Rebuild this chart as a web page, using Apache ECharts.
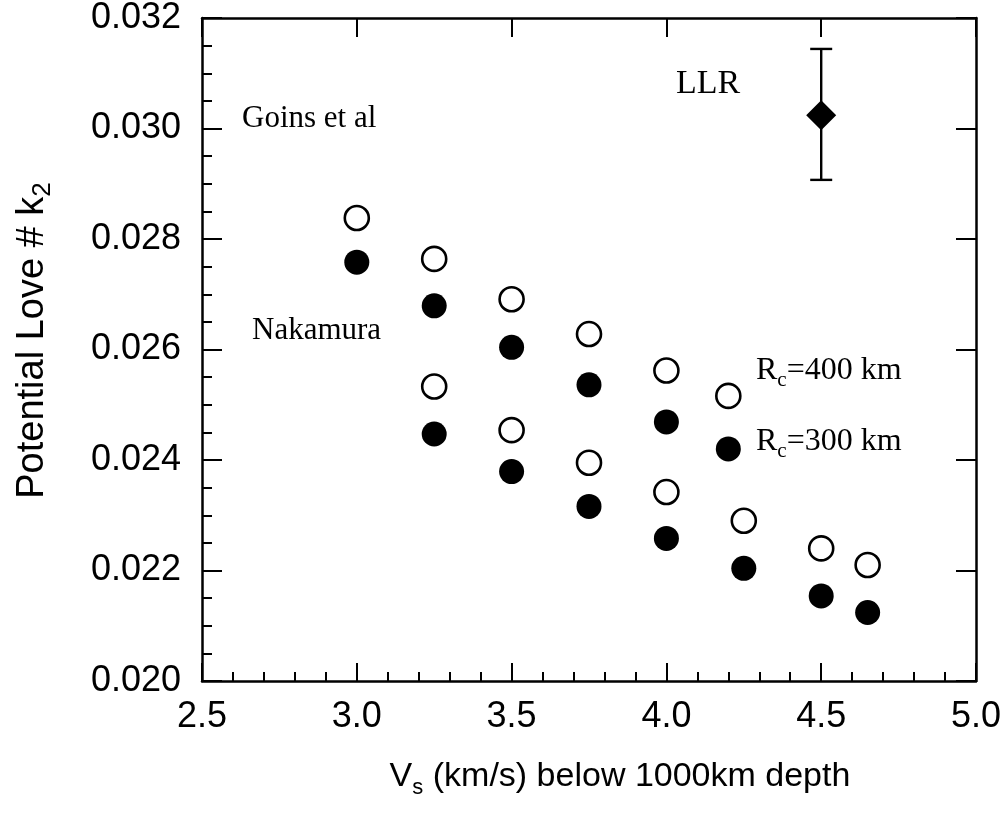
<!DOCTYPE html>
<html>
<head>
<meta charset="utf-8">
<title>Potential Love number k2 vs Vs</title>
<script src="https://cdn.jsdelivr.net/npm/echarts@6/dist/echarts.min.js"></script>
<style>
  html, body { margin: 0; padding: 0; background: #fff; }
  #container { width: 1006px; height: 813px; }
</style>
</head>
<body>
<div id="container"></div>
<script>
// Goins et al models (upper group)
var vsGoins = [3.0, 3.25, 3.5, 3.75, 4.0, 4.2];
var k2GoinsRc400 = [0.02838, 0.02764, 0.02691, 0.02628, 0.02562, 0.02516];
var k2GoinsRc300 = [0.02758, 0.02679, 0.02604, 0.02536, 0.02469, 0.02420];
// Nakamura models (lower group)
var vsNaka = [3.25, 3.5, 3.75, 4.0, 4.25, 4.5, 4.65];
var k2NakaRc400 = [0.02533, 0.02454, 0.02395, 0.02342, 0.02290, 0.02240, 0.02210];
var k2NakaRc300 = [0.02447, 0.02379, 0.02316, 0.02258, 0.02204, 0.02154, 0.02124];
// LLR measurement with error bar
var vsLLR = [4.5];
var k2LLR = [0.03024];
var k2LLRLow = [0.02907];
var k2LLRHigh = [0.03144];

var xTicks = [2.5, 3.0, 3.5, 4.0, 4.5, 5.0];
var yTicks = [0.020, 0.022, 0.024, 0.026, 0.028, 0.030, 0.032];

function pairs(xs, ys) {
  return xs.map(function (x, i) { return [x, ys[i]]; });
}

var sansFont = '"Liberation Sans", Arial, Helvetica, sans-serif';
var serifFont = '"Liberation Serif", "Times New Roman", serif';

var openCircle = {
  color: '#fff',
  borderColor: '#000',
  borderWidth: 2.6,
  opacity: 1
};
var filledCircle = {
  color: '#000',
  opacity: 1
};

// rich styles for the R_c labels
var rcRich = {
  a: { fontSize: 32, fontFamily: serifFont, color: '#000', lineHeight: 40, verticalAlign: 'middle' },
  s: { fontSize: 21, fontFamily: serifFont, color: '#000', lineHeight: 24, verticalAlign: 'bottom' }
};

var chart = echarts.init(document.getElementById('container'));

var option = {
  backgroundColor: '#fff',
  animation: false,
  grid: {
    left: 202,
    top: 18,
    right: 30,
    bottom: 132,
    containLabel: false
  },
  xAxis: [{
    type: 'value',
    position: 'bottom',
    min: xTicks[0],
    max: xTicks[xTicks.length - 1],
    interval: 0.5,
    splitLine: { show: false },
    axisLine: { onZero: false, lineStyle: { color: '#000', width: 2.5 } },
    axisTick: { inside: true, length: 18, lineStyle: { color: '#000', width: 2 } },
    minorTick: { show: true, splitNumber: 5, length: 9, lineStyle: { color: '#000', width: 2 } },
    axisLabel: {
      margin: 18,
      color: '#000',
      fontSize: 36,
      fontFamily: sansFont,
      formatter: function (v) { return v.toFixed(1); }
    },
    name: '{a|V}{s|s}{a| (km/s) below 1000km depth}',
    nameLocation: 'middle',
    nameGap: 74,
    nameTextStyle: {
      color: '#000',
      fontFamily: sansFont,
      padding: [0, 0, 0, 62],
      rich: {
        a: { fontSize: 34, fontFamily: sansFont, color: '#000', lineHeight: 44, verticalAlign: 'middle' },
        s: { fontSize: 22, fontFamily: sansFont, color: '#000', lineHeight: 24, verticalAlign: 'bottom' }
      }
    }
  }, {
    type: 'value',
    position: 'top',
    min: xTicks[0],
    max: xTicks[xTicks.length - 1],
    interval: 0.5,
    splitLine: { show: false },
    axisLine: { onZero: false, lineStyle: { color: '#000', width: 2.5 } },
    axisTick: { inside: true, length: 19, lineStyle: { color: '#000', width: 2 } },
    axisLabel: { show: false }
  }],
  yAxis: [{
    type: 'value',
    position: 'left',
    min: yTicks[0],
    max: yTicks[yTicks.length - 1],
    interval: 0.002,
    splitLine: { show: false },
    axisLine: { onZero: false, lineStyle: { color: '#000', width: 2.5 } },
    axisTick: { inside: true, length: 20, lineStyle: { color: '#000', width: 2 } },
    minorTick: { show: true, splitNumber: 4, length: 10, lineStyle: { color: '#000', width: 2 } },
    axisLabel: {
      margin: 21,
      color: '#000',
      fontSize: 36,
      fontFamily: sansFont,
      formatter: function (v) { return v.toFixed(3); }
    },
    name: '{a|Potential Love # k}{s|2}',
    nameLocation: 'middle',
    nameGap: 146,
    nameTextStyle: {
      color: '#000',
      fontFamily: sansFont,
      padding: [0, 0, 0, 18],
      rich: {
        a: { fontSize: 38, fontFamily: sansFont, color: '#000', lineHeight: 46, verticalAlign: 'middle' },
        s: { fontSize: 26, fontFamily: sansFont, color: '#000', lineHeight: 28, verticalAlign: 'bottom' }
      }
    }
  }, {
    type: 'value',
    position: 'right',
    min: yTicks[0],
    max: yTicks[yTicks.length - 1],
    interval: 0.002,
    splitLine: { show: false },
    axisLine: { onZero: false, lineStyle: { color: '#000', width: 2.5 } },
    axisTick: { inside: true, length: 20, lineStyle: { color: '#000', width: 2 } },
    axisLabel: { show: false }
  }],
  series: [{
    name: 'Goins Rc=400',
    type: 'scatter',
    symbol: 'circle',
    symbolSize: 24,
    itemStyle: openCircle,
    data: pairs(vsGoins, k2GoinsRc400)
  }, {
    name: 'Goins Rc=300',
    type: 'scatter',
    symbol: 'circle',
    symbolSize: 25,
    itemStyle: filledCircle,
    data: pairs(vsGoins, k2GoinsRc300)
  }, {
    name: 'Nakamura Rc=400',
    type: 'scatter',
    symbol: 'circle',
    symbolSize: 24,
    itemStyle: openCircle,
    data: pairs(vsNaka, k2NakaRc400)
  }, {
    name: 'Nakamura Rc=300',
    type: 'scatter',
    symbol: 'circle',
    symbolSize: 25,
    itemStyle: filledCircle,
    data: pairs(vsNaka, k2NakaRc300)
  }, {
    // error bar of the LLR value
    name: 'LLR error',
    type: 'custom',
    data: vsLLR.map(function (x, i) { return [x, k2LLRLow[i], k2LLRHigh[i]]; }),
    renderItem: function (params, api) {
      var lo = api.coord([api.value(0), api.value(1)]);
      var hi = api.coord([api.value(0), api.value(2)]);
      var cap = 11;
      var style = { stroke: '#000', lineWidth: 2.4 };
      return {
        type: 'group',
        children: [
          { type: 'line', shape: { x1: lo[0], y1: lo[1], x2: hi[0], y2: hi[1] }, style: style },
          { type: 'line', shape: { x1: hi[0] - cap, y1: hi[1], x2: hi[0] + cap, y2: hi[1] }, style: style },
          { type: 'line', shape: { x1: lo[0] - cap, y1: lo[1], x2: lo[0] + cap, y2: lo[1] }, style: style }
        ]
      };
    },
    z: 2
  }, {
    name: 'LLR',
    type: 'scatter',
    symbol: 'diamond',
    symbolSize: [30, 30],
    itemStyle: { color: '#000', opacity: 1 },
    data: pairs(vsLLR, k2LLR),
    z: 3
  }],
  graphic: [{
    type: 'text',
    left: 242, top: 103,
    style: { text: 'Goins et al', fontSize: 31, fontFamily: serifFont, fill: '#000' }
  }, {
    type: 'text',
    left: 676, top: 67,
    style: { text: 'LLR', fontSize: 34, fontFamily: serifFont, fill: '#000' }
  }, {
    type: 'text',
    left: 252, top: 315,
    style: { text: 'Nakamura', fontSize: 31, fontFamily: serifFont, fill: '#000' }
  }, {
    type: 'text',
    left: 756, top: 355,
    style: { text: '{a|R}{s|c}{a|=400 km}', fill: '#000', rich: rcRich }
  }, {
    type: 'text',
    left: 756, top: 426,
    style: { text: '{a|R}{s|c}{a|=300 km}', fill: '#000', rich: rcRich }
  }]
};

chart.setOption(option);
</script>
</body>
</html>
